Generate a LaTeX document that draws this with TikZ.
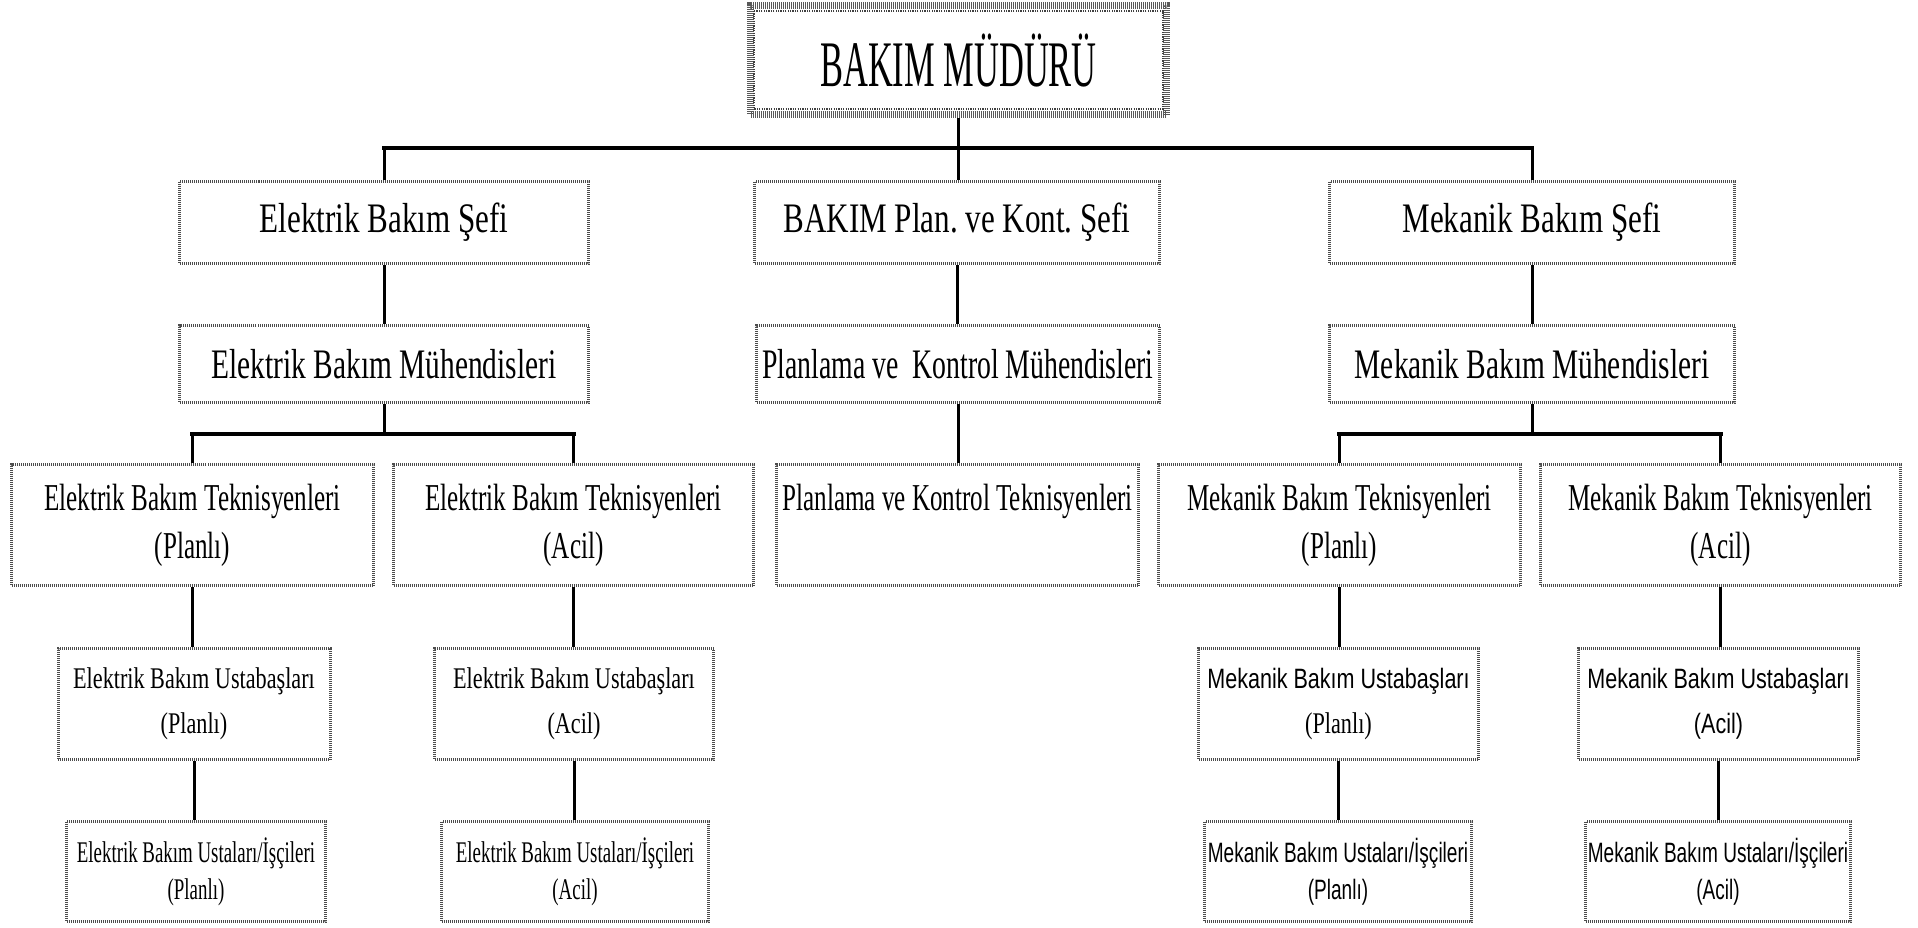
\documentclass[tikz,border=0pt]{standalone}
\usepackage{fontspec}
\setmainfont{Liberation Serif}
\frenchspacing
% condensed faces used for the different levels of the chart
\newfontfamily\fTop[FakeStretch=0.53]{Liberation Serif}
\newfontfamily\fHead[FakeStretch=0.74]{Liberation Serif}
\newfontfamily\fEng[FakeStretch=0.70]{Liberation Serif}
\newfontfamily\fEngK[FakeStretch=0.66]{Liberation Serif}
\newfontfamily\fTech[FakeStretch=0.66]{Liberation Serif}
\newfontfamily\fForeman[FakeStretch=0.74]{Liberation Serif}
\newfontfamily\fWorker[FakeStretch=0.63]{Liberation Serif}
\newfontfamily\fForemanSans[FakeStretch=0.77]{Liberation Sans}
\newfontfamily\fWorkerSans[FakeStretch=0.68]{Liberation Sans}

\tikzset{
  frame/.style={draw=black!70, line width=1.5pt, dash pattern=on 0.5pt off 0.5pt,
                fill=white, inner sep=0pt, align=center},
  topbox/.style={frame, draw=black!65, line width=3.5pt, dash pattern=on 0.5pt off 0.5pt,
                 minimum width=208pt, minimum height=54.5pt,
                 font={\fTop\fontsize{32.5pt}{38pt}\selectfont}},
  chiefbox/.style={frame, minimum height=41pt,
                   font={\fHead\fontsize{21pt}{25pt}\selectfont}},
  engbox/.style={frame, minimum height=38.5pt,
                 font={\fEng\fontsize{21pt}{25pt}\selectfont}},
  techbox/.style={frame, minimum height=60.5pt,
                  font={\fTech\fontsize{19pt}{24pt}\selectfont}},
  forebox/.style={frame, minimum height=55.5pt,
                  font={\fForeman\fontsize{15pt}{22.5pt}\selectfont}},
  workbox/.style={frame, minimum height=50pt,
                  font={\fWorker\fontsize{15pt}{18.5pt}\selectfont}},
  link/.style={draw=black, line width=1.5pt},
  bus/.style={draw=black, line width=2.2pt, line cap=rect},
  innerdots/.style={draw=black!75, line width=0.6pt, dash pattern=on 0.6pt off 0.6pt},
}

\begin{document}
\begin{tikzpicture}[x=0.5pt, y=-0.5pt]
  \useasboundingbox[fill=white] (0,0) rectangle (1918,927);

  % director
  \node[topbox] (mgr) at (958.5,60) {BAKIM MÜDÜRÜ};
  \draw[innerdots] ([shift={(3.5pt,-4.5pt)}]mgr.north west)
                   rectangle ([shift={(-3.5pt,4.5pt)}]mgr.south east);

  % chiefs
  \node[chiefbox, minimum width=204.5pt] (eChief) at (384,222.5) {Elektrik Bakım Şefi};
  \node[chiefbox, minimum width=202.5pt] (pChief) at (957,222.5) {BAKIM Plan. ve Kont. Şefi};
  \node[chiefbox, minimum width=202.5pt] (mChief) at (1532,222.5) {Mekanik Bakım Şefi};

  % engineers
  \node[engbox, minimum width=204.5pt] (eEng) at (384,364) {Elektrik Bakım Mühendisleri};
  \node[engbox, minimum width=201.5pt, font={\fEngK\fontsize{21pt}{25pt}\selectfont}] (pEng) at (958,364)
       {Planlama ve\ \ Kontrol Mühendisleri};
  \node[engbox, minimum width=202.5pt] (mEng) at (1532,364) {Mekanik Bakım Mühendisleri};

  % technicians
  \node[techbox, minimum width=181pt] (eTechP) at (192.5,525) {Elektrik Bakım Teknisyenleri\\(Planlı)};
  \node[techbox, minimum width=180pt] (eTechA) at (573.5,525) {Elektrik Bakım Teknisyenleri\\(Acil)};
  \node[techbox, minimum width=181pt] (pTech) at (957.5,525) {Planlama ve Kontrol Teknisyenleri\\\phantom{(Acil)}};
  \node[techbox, minimum width=181pt] (mTechP) at (1339.5,525) {Mekanik Bakım Teknisyenleri\\(Planlı)};
  \node[techbox, minimum width=180pt] (mTechA) at (1720.5,525) {Mekanik Bakım Teknisyenleri\\(Acil)};

  % foremen
  \node[forebox, minimum width=136pt] (eForeP) at (194,704) {Elektrik Bakım Ustabaşları\\(Planlı)};
  \node[forebox, minimum width=139.5pt] (eForeA) at (574,704) {Elektrik Bakım Ustabaşları\\(Acil)};
  \node[forebox, minimum width=140pt] (mForeP) at (1338.5,704)
       {{\fForemanSans\fontsize{14pt}{22.5pt}\selectfont Mekanik Bakım Ustabaşları}\\(Planlı)};
  \node[forebox, minimum width=140pt] (mForeA) at (1718.5,704)
       {{\fForemanSans\fontsize{14pt}{22.5pt}\selectfont Mekanik Bakım Ustabaşları}\\
        {\fForemanSans\fontsize{14pt}{22.5pt}\selectfont (Acil)}};

  % workers
  \node[workbox, minimum width=129.5pt] (eWorkP) at (196,871.5) {Elektrik Bakım Ustaları/İşçileri\\(Planlı)};
  \node[workbox, minimum width=133.5pt] (eWorkA) at (575,871.5) {Elektrik Bakım Ustaları/İşçileri\\(Acil)};
  \node[workbox, minimum width=133.5pt, font={\fWorkerSans\fontsize{14pt}{18.5pt}\selectfont}] (mWorkP) at (1338,871.5)
       {Mekanik Bakım Ustaları/İşçileri\\(Planlı)};
  \node[workbox, minimum width=132.5pt, font={\fWorkerSans\fontsize{14pt}{18.5pt}\selectfont}] (mWorkA) at (1718,871.5)
       {Mekanik Bakım Ustaları/İşçileri\\(Acil)};

  % bus levels
  \coordinate (busTop) at (958,148);
  \coordinate (busE) at (0,434);
  \coordinate (busM) at (0,434);

  % director to chiefs
  \draw[link] (mgr.south) -- (mgr.south |- pChief.north);
  \draw[link] (eChief.north |- busTop) -- (eChief.north);
  \draw[link] (mChief.north |- busTop) -- (mChief.north);
  \draw[bus] (eChief.north |- busTop) -- (mChief.north |- busTop);

  % chiefs to engineers
  \draw[link] (eChief.south) -- (eChief.south |- eEng.north);
  \draw[link] (pChief.south) -- (pChief.south |- pEng.north);
  \draw[link] (mChief.south) -- (mChief.south |- mEng.north);

  % engineers to technicians
  \draw[link] (eEng.south) -- (eEng.south |- busE);
  \draw[link] (eTechP.north |- busE) -- (eTechP.north);
  \draw[link] (eTechA.north |- busE) -- (eTechA.north);
  \draw[bus] (eTechP.north |- busE) -- (eTechA.north |- busE);

  \draw[link] (pEng.south) -- (pEng.south |- pTech.north);

  \draw[link] (mEng.south) -- (mEng.south |- busM);
  \draw[link] (mTechP.north |- busM) -- (mTechP.north);
  \draw[link] (mTechA.north |- busM) -- (mTechA.north);
  \draw[bus] (mTechP.north |- busM) -- (mTechA.north |- busM);

  % technicians to foremen to workers
  \draw[link] (eTechP.south) -- (eTechP.south |- eForeP.north);
  \draw[link] (eTechA.south) -- (eTechA.south |- eForeA.north);
  \draw[link] (mTechP.south) -- (mTechP.south |- mForeP.north);
  \draw[link] (mTechA.south) -- (mTechA.south |- mForeA.north);
  \draw[link] (eForeP.south) -- (eForeP.south |- eWorkP.north);
  \draw[link] (eForeA.south) -- (eForeA.south |- eWorkA.north);
  \draw[link] (mForeP.south) -- (mForeP.south |- mWorkP.north);
  \draw[link] (mForeA.south) -- (mForeA.south |- mWorkA.north);
\end{tikzpicture}
\end{document}
